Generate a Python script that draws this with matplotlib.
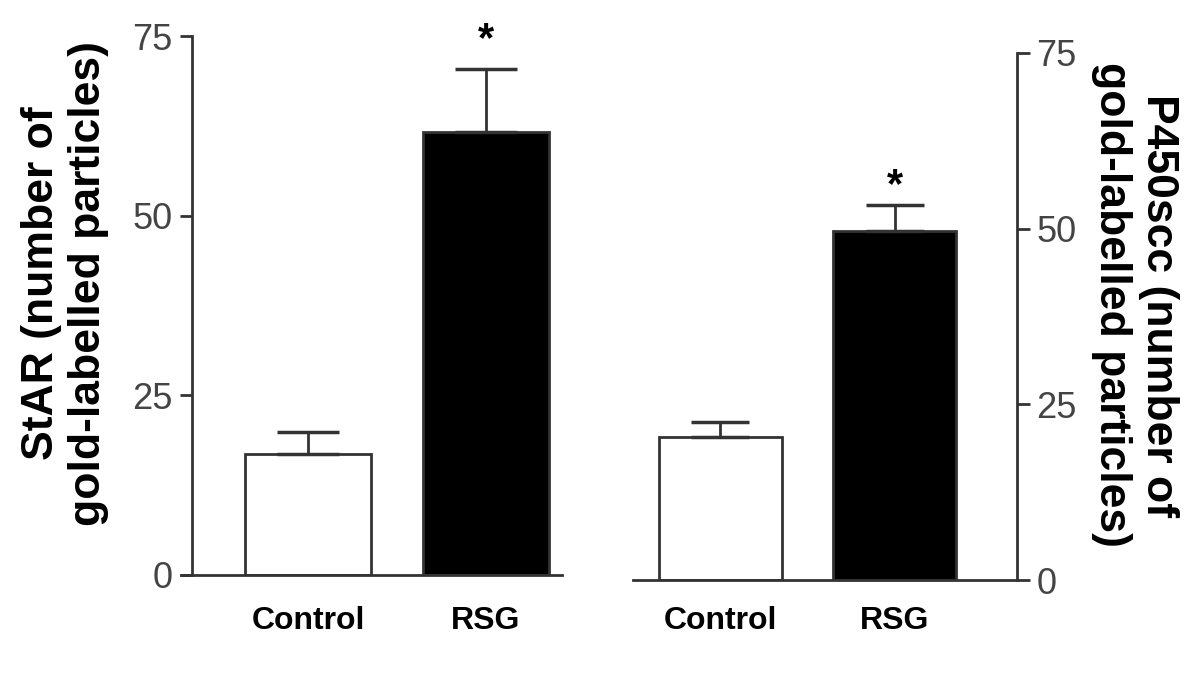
import matplotlib
matplotlib.use("Agg")
import matplotlib.pyplot as plt

plt.rcParams["font.family"] = ["Liberation Sans", "DejaVu Sans"]

# values (mean and upper error bar)
groups = ["Control", "RSG"]
star_mean = [16.8, 61.6]
star_err = [3.1, 8.8]
p450_mean = [20.3, 49.6]
p450_err = [2.2, 3.7]
yticks = [0, 25, 50, 75]

AX_COL = "#333333"
TICK_COL = "#444444"

fig = plt.figure(figsize=(12, 6.87), dpi=100)

# left panel: StAR
ax1 = fig.add_axes([192 / 1200, 112 / 687, 370 / 1200, 539 / 687])
ax1.bar(range(2), star_mean, width=0.71, color=["white", "black"],
        edgecolor=AX_COL, linewidth=2)
ax1.errorbar(range(2), star_mean, yerr=[[0, 0], star_err], fmt="none",
             ecolor=AX_COL, elinewidth=2, capsize=22, capthick=2.5)
ax1.set_xlim(-0.652, 1.427)
ax1.set_ylim(0, 75)
ax1.text(1, star_mean[1] + star_err[1] + 4.0, "*", ha="center", va="center",
         fontsize=30, fontweight="bold", clip_on=False)
ax1.spines[["top", "right"]].set_visible(False)
ax1.spines["bottom"].set_bounds(-0.652 - 11 / 178, 1.427)

# right panel: P450scc
ax2 = fig.add_axes([633 / 1200, 107 / 687, 384 / 1200, 527 / 687])
ax2.bar(range(2), p450_mean, width=0.705, color=["white", "black"],
        edgecolor=AX_COL, linewidth=2)
ax2.errorbar(range(2), p450_mean, yerr=[[0, 0], p450_err], fmt="none",
             ecolor=AX_COL, elinewidth=2, capsize=21, capthick=2.5)
ax2.set_xlim(-0.499, 1.702)
ax2.set_ylim(0, 75)
ax2.text(1, p450_mean[1] + p450_err[1] + 2.8, "*", ha="center", va="center",
         fontsize=30, fontweight="bold")
ax2.spines[["top", "left"]].set_visible(False)
ax2.yaxis.tick_right()

for ax in (ax1, ax2):
    for s in ax.spines.values():
        s.set_linewidth(2)
        s.set_color(AX_COL)
    ax.set_yticks(yticks)
    ax.tick_params(axis="y", length=9, width=2, color=AX_COL,
                   labelsize=26, labelcolor=TICK_COL, pad=5)
    ax.set_xticks(range(2))
    ax.set_xticklabels(groups, fontsize=23, fontweight="bold")
    ax.tick_params(axis="x", length=0, pad=22)
    ax.patch.set_alpha(0)
ax2.tick_params(axis="x", pad=19)

fig.text(65 / 1200, 1 - 283 / 687, "StAR (number of\ngold-labelled particles)",
         rotation=90, ha="center", va="center", multialignment="center",
         fontsize=32, fontweight="bold")
fig.text(1135 / 1200, 1 - 305 / 687, "P450scc (number of\ngold-labelled particles)",
         rotation=270, ha="center", va="center", multialignment="center",
         fontsize=32, fontweight="bold")

fig.savefig("out.png", dpi=100)
